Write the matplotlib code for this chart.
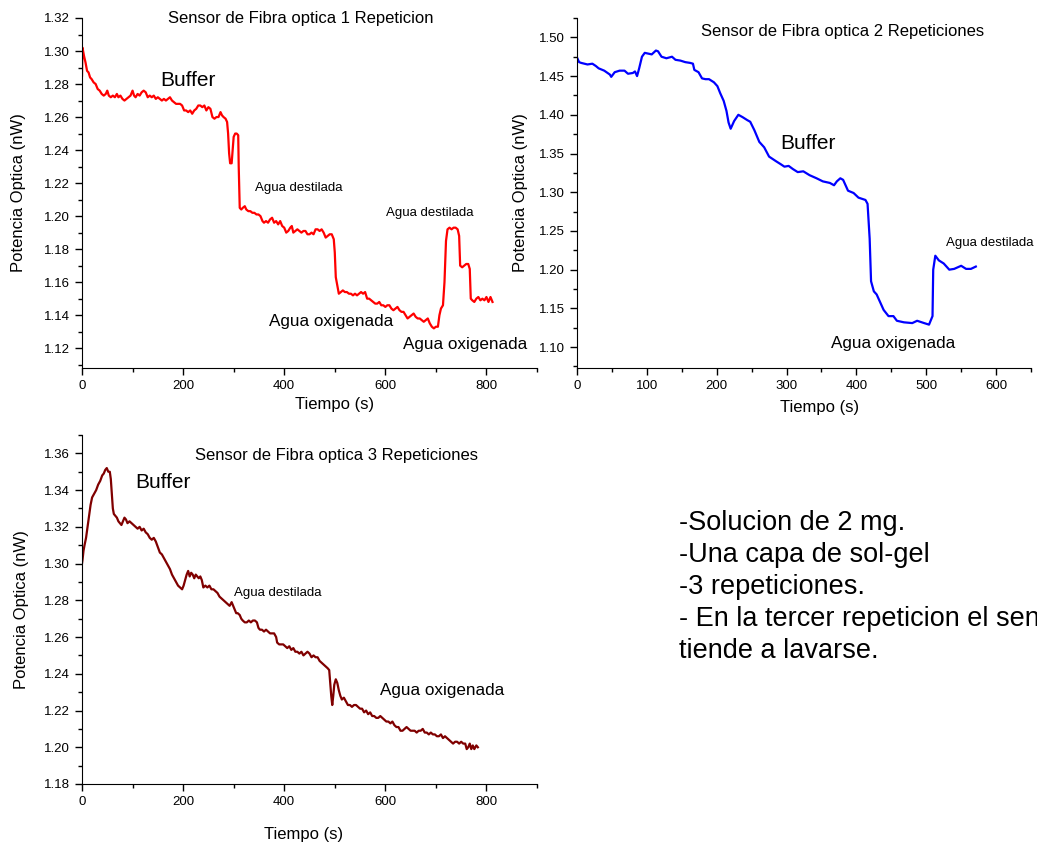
import matplotlib
matplotlib.use('Agg')
import matplotlib.pyplot as plt
from matplotlib.ticker import MultipleLocator

plt.rcParams['font.family'] = ['Liberation Sans', 'DejaVu Sans']

# ── Datos ────────────────────────────────────────────────────────────────────

# 1 repeticion (rojo)
t1 = [0, 1, 4, 7, 10, 13, 16, 19, 23, 27, 31, 35, 39, 43, 47, 50, 53, 57, 61, 65,
      69, 72, 76, 80, 84, 88, 92, 96, 100, 103, 106, 110, 114, 118, 122, 126, 130,
      134, 138, 142, 146, 150, 154, 158, 162, 166, 170, 174, 178, 182, 186, 190,
      194, 198, 202, 206, 210, 214, 218, 222, 226, 230, 234, 238, 242, 246, 250,
      254, 258, 262, 266, 270, 274, 277, 280, 284, 287, 289, 291, 293, 296, 298,
      300, 303, 306, 309, 310, 312, 315, 318, 322, 325, 329, 333, 337, 341, 345,
      349, 353, 357, 360, 364, 368, 372, 376, 380, 384, 388, 392, 396, 400, 404,
      408, 412, 415, 418, 422, 426, 430, 434, 438, 442, 446, 450, 454, 458, 462,
      466, 470, 474, 478, 482, 486, 490, 494, 498, 500, 502, 505, 508, 512, 516,
      520, 524, 528, 532, 536, 540, 544, 548, 552, 556, 560, 564, 568, 572, 576,
      580, 584, 588, 592, 596, 600, 604, 608, 612, 616, 620, 624, 628, 632, 636,
      640, 644, 648, 652, 656, 660, 664, 668, 672, 676, 680, 684, 688, 692, 696,
      700, 704, 707, 710, 714, 717, 720, 723, 727, 731, 735, 739, 743, 746, 748,
      752, 756, 760, 764, 767, 769, 772, 776, 780, 784, 788, 792, 796, 800, 804,
      808, 812]
p1 = [1.285, 1.302, 1.297, 1.293, 1.288, 1.287, 1.284, 1.283, 1.281, 1.280,
      1.277, 1.276, 1.274, 1.273, 1.274, 1.276, 1.273, 1.272, 1.273, 1.272,
      1.274, 1.272, 1.273, 1.271, 1.270, 1.271, 1.272, 1.273, 1.276, 1.273,
      1.272, 1.274, 1.273, 1.275, 1.276, 1.275, 1.272, 1.273, 1.272, 1.273,
      1.271, 1.272, 1.271, 1.270, 1.271, 1.270, 1.271, 1.272, 1.270, 1.269,
      1.268, 1.268, 1.268, 1.267, 1.264, 1.264, 1.263, 1.264, 1.262, 1.264,
      1.265, 1.267, 1.267, 1.266, 1.267, 1.264, 1.266, 1.265, 1.260, 1.259,
      1.260, 1.260, 1.263, 1.261, 1.260, 1.259, 1.257, 1.250, 1.238, 1.232,
      1.232, 1.240, 1.248, 1.250, 1.250, 1.249, 1.230, 1.205, 1.204, 1.205,
      1.206, 1.204, 1.203, 1.203, 1.202, 1.202, 1.201, 1.201, 1.200, 1.197,
      1.196, 1.197, 1.196, 1.198, 1.199, 1.196, 1.197, 1.195, 1.197, 1.194,
      1.193, 1.190, 1.191, 1.193, 1.194, 1.190, 1.191, 1.192, 1.191, 1.190,
      1.191, 1.191, 1.189, 1.189, 1.190, 1.189, 1.192, 1.192, 1.191, 1.192,
      1.190, 1.187, 1.188, 1.189, 1.189, 1.186, 1.178, 1.163, 1.158, 1.153,
      1.154, 1.155, 1.154, 1.154, 1.153, 1.153, 1.152, 1.153, 1.152, 1.153,
      1.154, 1.153, 1.154, 1.150, 1.150, 1.149, 1.148, 1.147, 1.147, 1.148,
      1.146, 1.146, 1.145, 1.146, 1.146, 1.144, 1.143, 1.144, 1.145, 1.143,
      1.142, 1.142, 1.140, 1.138, 1.139, 1.140, 1.141, 1.139, 1.138, 1.138,
      1.137, 1.136, 1.137, 1.138, 1.135, 1.133, 1.132, 1.133, 1.133, 1.140,
      1.144, 1.146, 1.160, 1.185, 1.192, 1.193, 1.192, 1.193, 1.193, 1.192,
      1.188, 1.170, 1.169, 1.170, 1.171, 1.171, 1.168, 1.150, 1.149, 1.148,
      1.150, 1.151, 1.149, 1.150, 1.149, 1.151, 1.148, 1.151, 1.148]

# 2 repeticiones (azul)
t2 = [0, 3, 6, 15, 22, 27, 31, 39, 47, 49, 54, 61, 68, 73, 80, 83, 86, 89, 93,
      97, 107, 113, 116, 121, 128, 136, 141, 148, 155, 162, 166, 168, 174, 179,
      184, 189, 196, 201, 205, 210, 214, 217, 220, 225, 231, 237, 244, 248, 254,
      261, 268, 275, 285, 292, 297, 303, 309, 316, 324, 333, 343, 352, 362, 368,
      372, 377, 381, 388, 396, 403, 413, 416, 419, 421, 425, 429, 434, 439, 446,
      453, 458, 468, 480, 487, 497, 504, 509, 510, 513, 518, 525, 533, 540, 550,
      557, 564, 571]
p2 = [1.474, 1.468, 1.467, 1.465, 1.466, 1.463, 1.460, 1.457, 1.452, 1.449,
      1.455, 1.457, 1.457, 1.453, 1.454, 1.456, 1.450, 1.460, 1.475, 1.480,
      1.478, 1.483, 1.482, 1.475, 1.473, 1.475, 1.471, 1.470, 1.468, 1.467,
      1.466, 1.458, 1.455, 1.447, 1.446, 1.446, 1.442, 1.437, 1.428, 1.418,
      1.405, 1.390, 1.382, 1.392, 1.400, 1.397, 1.393, 1.391, 1.380, 1.365,
      1.358, 1.346, 1.340, 1.336, 1.333, 1.334, 1.330, 1.326, 1.327, 1.322,
      1.318, 1.314, 1.312, 1.309, 1.314, 1.318, 1.316, 1.302, 1.299, 1.293,
      1.290, 1.285, 1.240, 1.185, 1.172, 1.168, 1.158, 1.148, 1.140, 1.140,
      1.134, 1.132, 1.131, 1.134, 1.131, 1.129, 1.140, 1.200, 1.218, 1.212,
      1.208, 1.200, 1.201, 1.205, 1.201, 1.201, 1.204]

# 3 repeticiones (granate)
t3 = [0, 1, 3, 5, 8, 11, 14, 17, 20, 24, 28, 32, 36, 40, 43, 46, 49, 52, 55, 57,
      59, 61, 63, 66, 69, 72, 75, 78, 81, 84, 87, 90, 94, 98, 102, 106, 110, 114,
      118, 122, 126, 130, 134, 138, 142, 146, 150, 154, 158, 162, 166, 170, 174,
      178, 182, 186, 190, 194, 198, 201, 204, 207, 210, 213, 216, 219, 222, 225,
      228, 231, 234, 237, 240, 244, 248, 252, 256, 260, 264, 268, 272, 276, 280,
      284, 288, 292, 296, 299, 302, 305, 308, 312, 315, 318, 322, 326, 330, 334,
      338, 342, 346, 349, 352, 356, 360, 364, 368, 372, 376, 380, 384, 386, 390,
      394, 398, 402, 406, 410, 414, 418, 422, 426, 430, 434, 438, 442, 446, 450,
      454, 458, 462, 466, 470, 474, 478, 482, 486, 489, 491, 493, 495, 497, 499,
      502, 505, 508, 511, 514, 518, 522, 526, 530, 534, 538, 542, 546, 550, 554,
      558, 562, 566, 570, 574, 578, 582, 586, 590, 594, 598, 602, 606, 610, 614,
      618, 622, 626, 630, 634, 638, 642, 646, 650, 654, 658, 662, 666, 670, 674,
      678, 682, 686, 690, 694, 698, 702, 706, 710, 714, 718, 722, 726, 730, 734,
      738, 742, 746, 750, 754, 758, 761, 764, 767, 770, 773, 776, 780, 783]
p3 = [1.300, 1.302, 1.307, 1.310, 1.314, 1.320, 1.326, 1.332, 1.336, 1.338,
      1.340, 1.343, 1.345, 1.348, 1.349, 1.351, 1.352, 1.350, 1.350, 1.346,
      1.338, 1.330, 1.327, 1.326, 1.325, 1.323, 1.322, 1.321, 1.323, 1.325,
      1.324, 1.322, 1.323, 1.322, 1.321, 1.320, 1.319, 1.320, 1.318, 1.319,
      1.317, 1.316, 1.314, 1.313, 1.314, 1.312, 1.309, 1.306, 1.305, 1.303,
      1.301, 1.299, 1.297, 1.294, 1.292, 1.290, 1.288, 1.287, 1.286, 1.288,
      1.291, 1.294, 1.296, 1.293, 1.295, 1.294, 1.292, 1.294, 1.293, 1.292,
      1.293, 1.291, 1.287, 1.288, 1.287, 1.288, 1.286, 1.286, 1.285, 1.284,
      1.282, 1.281, 1.280, 1.279, 1.278, 1.277, 1.279, 1.277, 1.275, 1.273,
      1.273, 1.272, 1.270, 1.269, 1.268, 1.268, 1.269, 1.268, 1.269, 1.269,
      1.268, 1.265, 1.264, 1.264, 1.263, 1.264, 1.263, 1.262, 1.262, 1.262,
      1.260, 1.257, 1.256, 1.256, 1.256, 1.255, 1.254, 1.255, 1.253, 1.254,
      1.252, 1.252, 1.251, 1.252, 1.250, 1.251, 1.252, 1.251, 1.249, 1.250,
      1.249, 1.249, 1.247, 1.246, 1.245, 1.244, 1.243, 1.242, 1.235, 1.228,
      1.223, 1.228, 1.234, 1.237, 1.235, 1.231, 1.228, 1.226, 1.227, 1.225,
      1.223, 1.223, 1.222, 1.223, 1.223, 1.222, 1.221, 1.221, 1.219, 1.220,
      1.218, 1.219, 1.217, 1.217, 1.216, 1.216, 1.217, 1.216, 1.215, 1.214,
      1.214, 1.213, 1.214, 1.212, 1.211, 1.211, 1.209, 1.209, 1.210, 1.211,
      1.210, 1.209, 1.209, 1.209, 1.208, 1.209, 1.209, 1.210, 1.208, 1.208,
      1.207, 1.208, 1.207, 1.207, 1.206, 1.206, 1.207, 1.205, 1.206, 1.205,
      1.204, 1.203, 1.202, 1.203, 1.203, 1.202, 1.203, 1.202, 1.202, 1.199,
      1.200, 1.202, 1.199, 1.201, 1.199, 1.201, 1.200]

notas = ['-Solucion de 2 mg.', '-Una capa de sol-gel', '-3 repeticiones.',
         '- En la tercer repeticion el sensor', 'tiende a lavarse.']


# ── Figura ───────────────────────────────────────────────────────────────────

W, H = 1037, 848
fig = plt.figure(figsize=(W / 100, H / 100), dpi=100)


def make_ax(left, top, right, bottom):
    return fig.add_axes([left / W, 1 - bottom / H, (right - left) / W, (bottom - top) / H])


def style(ax, xlim, ylim, xmaj, xmin, ymaj, ymin, xl_x, xl_y, yl_x):
    ax.set_xlim(*xlim)
    ax.set_ylim(*ylim)
    for s in ['top', 'right']:
        ax.spines[s].set_visible(False)
    ax.xaxis.set_major_locator(MultipleLocator(xmaj))
    ax.xaxis.set_minor_locator(MultipleLocator(xmin))
    ax.yaxis.set_major_locator(MultipleLocator(ymaj))
    ax.yaxis.set_minor_locator(MultipleLocator(ymin))
    ax.tick_params(which='major', direction='out', length=5, width=1, labelsize=9.5)
    ax.tick_params(which='minor', direction='out', length=3, width=1)
    ax.yaxis.set_major_formatter(plt.FormatStrFormatter('%.2f'))
    ax.set_xlabel('Tiempo (s)', fontsize=12)
    ax.set_ylabel('Potencia Optica (nW)', fontsize=12)
    ax.xaxis.set_label_coords(xl_x, xl_y)
    ax.yaxis.set_label_coords(yl_x, 0.5)


# panel 1
ax1 = make_ax(82, 18, 537, 368)
ax1.plot(t1, p1, color='#ff0000', lw=1.6)
style(ax1, (0, 900), (1.108, 1.32), 200, 100, 0.02, 0.01, 0.556, -0.083, -0.123)
ax1.text(433, 1.32, 'Sensor de Fibra optica 1 Repeticion', ha='center', va='center', fontsize=12)
ax1.text(155, 1.282, 'Buffer', va='center', fontsize=15)
ax1.text(342, 1.217, 'Agua destilada', va='center', fontsize=9.5)
ax1.text(602, 1.202, 'Agua destilada', va='center', fontsize=9.5)
ax1.text(369, 1.136, 'Agua oxigenada', va='center', fontsize=12.3)
ax1.text(635, 1.122, 'Agua oxigenada', va='center', fontsize=12.3, clip_on=False)

# panel 2
ax2 = make_ax(577, 18, 1031, 368)
ax2.plot(t2, p2, color='#0000ff', lw=1.6)
style(ax2, (0, 650), (1.073, 1.525), 100, 50, 0.05, 0.025, 0.534, -0.091, -0.108)
ax2.text(380, 1.507, 'Sensor de Fibra optica 2 Repeticiones', ha='center', va='center', fontsize=12)
ax2.text(291, 1.363, 'Buffer', va='center', fontsize=15)
ax2.text(364, 1.104, 'Agua oxigenada', va='center', fontsize=12.3)
ax2.text(528, 1.234, 'Agua destilada', va='center', fontsize=9.5)

# panel 3
ax3 = make_ax(82, 435, 537, 784)
ax3.plot(t3, p3, color='#800000', lw=1.6)
style(ax3, (0, 900), (1.18, 1.37), 200, 100, 0.02, 0.01, 0.486, -0.123, -0.116)
ax3.text(503, 1.359, 'Sensor de Fibra optica 3 Repeticiones', ha='center', va='center', fontsize=12)
ax3.text(106, 1.344, 'Buffer', va='center', fontsize=15)
ax3.text(301, 1.284, 'Agua destilada', va='center', fontsize=9.5)
ax3.text(589, 1.231, 'Agua oxigenada', va='center', fontsize=12.3)

# notas (la cuarta linea queda cortada en el borde, como en el original)
for i, linea in enumerate(notas):
    fig.text(679 / W, 1 - (530 + 32 * i) / H, linea, ha='left', va='baseline', fontsize=19.5)

fig.savefig('out.png', dpi=100)
